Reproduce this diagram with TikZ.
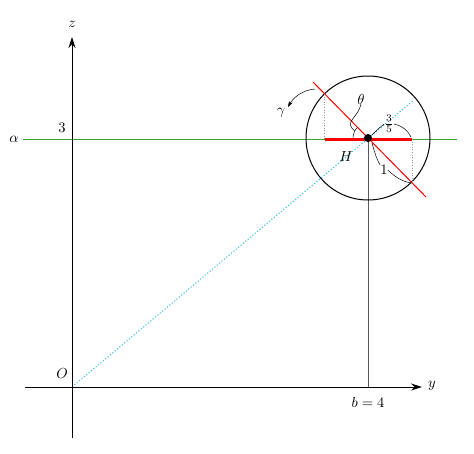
\documentclass[tikz,border=0pt]{standalone}
\usepackage{graphicx}
\usetikzlibrary{arrows.meta}
\definecolor{lgreen}{RGB}{50,165,50}
\definecolor{lcyan}{RGB}{60,195,210}
\newcommand{\Lb}[1]{\scalebox{1.45}{#1}}
\begin{document}
\begin{tikzpicture}[x=1pt,y=-1pt,
  axis/.style={line width=1pt,-{Stealth[length=11pt,width=7pt]}},
  note/.style={line width=0.5pt},
  lbl/.style={inner sep=0pt}]
\useasboundingbox (0,0) rectangle (474,453);
% named points
\coordinate (O) at (72,387);
\coordinate (H) at (368,138);
\coordinate (zb) at (72,438);
\coordinate (zt) at (72,37);
\coordinate (yl) at (25,387);
\coordinate (yr) at (422,387);
\coordinate (gl) at (23,139);
\coordinate (gr) at (457,139);
\coordinate (cy) at (414,100);
\coordinate (r1) at (313,82);
\coordinate (r2) at (426,197);
\coordinate (t1) at (325,139);
\coordinate (t2) at (412,139);
\coordinate (p1) at (324.5,94);
\coordinate (p2) at (412,183);
\coordinate (b) at (368,387);
% lines
\draw[lgreen,line width=0.8pt] (gl) -- (gr);
\draw[lcyan,dotted,line width=1.1pt] (O) -- (cy);
\draw[axis] (zb) -- (zt);
\draw[axis] (yl) -- (yr);
\draw[black!65,line width=0.9pt] (H) -- (b);
\draw[line width=1pt] (H) circle[radius=62];
\draw[black!40,dotted,line width=0.6pt] (p1) -- (324.5,139);
\draw[black!40,dotted,line width=0.6pt] (t2) -- (p2);
\draw[red,line width=1pt] (r1) -- (r2);
\draw[red,line width=3pt] (t1) -- (t2);
\fill (H) circle[radius=4];
% angle arc
\draw[note] (H) ++(180:15) arc[start angle=180,end angle=225,radius=15];
% labels
\node[lbl] (zl) at (72,24) {\Lb{$z$}};
\node[lbl] (yL) at (432,386) {\Lb{$y$}};
\node[lbl] (ol) at (62,374) {\Lb{$O$}};
\node[lbl] (bl) at (368,402) {\Lb{$b=4$}};
\node[lbl] (al) at (14,139) {\Lb{$\alpha$}};
\node[lbl] (three) at (62,128) {\Lb{$3$}};
\node[lbl] (hl) at (346,157) {\Lb{$H$}};
\node[lbl] (th) at (361,99) {\Lb{$\theta$}};
\node[lbl] (fr) at (389,124) {\Lb{$\frac{3}{5}$}};
\node[lbl] (one) at (384,170) {\Lb{$1$}};
\node[lbl] (ga) at (281,113) {\Lb{$\gamma$}};
% annotation curves
\draw[note] (th.south) .. controls (358,118) and (343,122) .. (355,131);
\draw[note] (fr.west) .. controls (380,127) and (376,131) .. (372,135);
\draw[note] (fr.east) .. controls (403,126) and (408,131) .. (411,137);
\draw[note] (one.north west) .. controls (376,158) and (374,150) .. (372,143);
\draw[note] (one.east) .. controls (394,176) and (402,182) .. (p2);
\draw[note,-{Stealth[length=6pt,width=4pt]}] (315,89) .. controls (302,90) and (293,98) .. (288,107);
\end{tikzpicture}
\end{document}
